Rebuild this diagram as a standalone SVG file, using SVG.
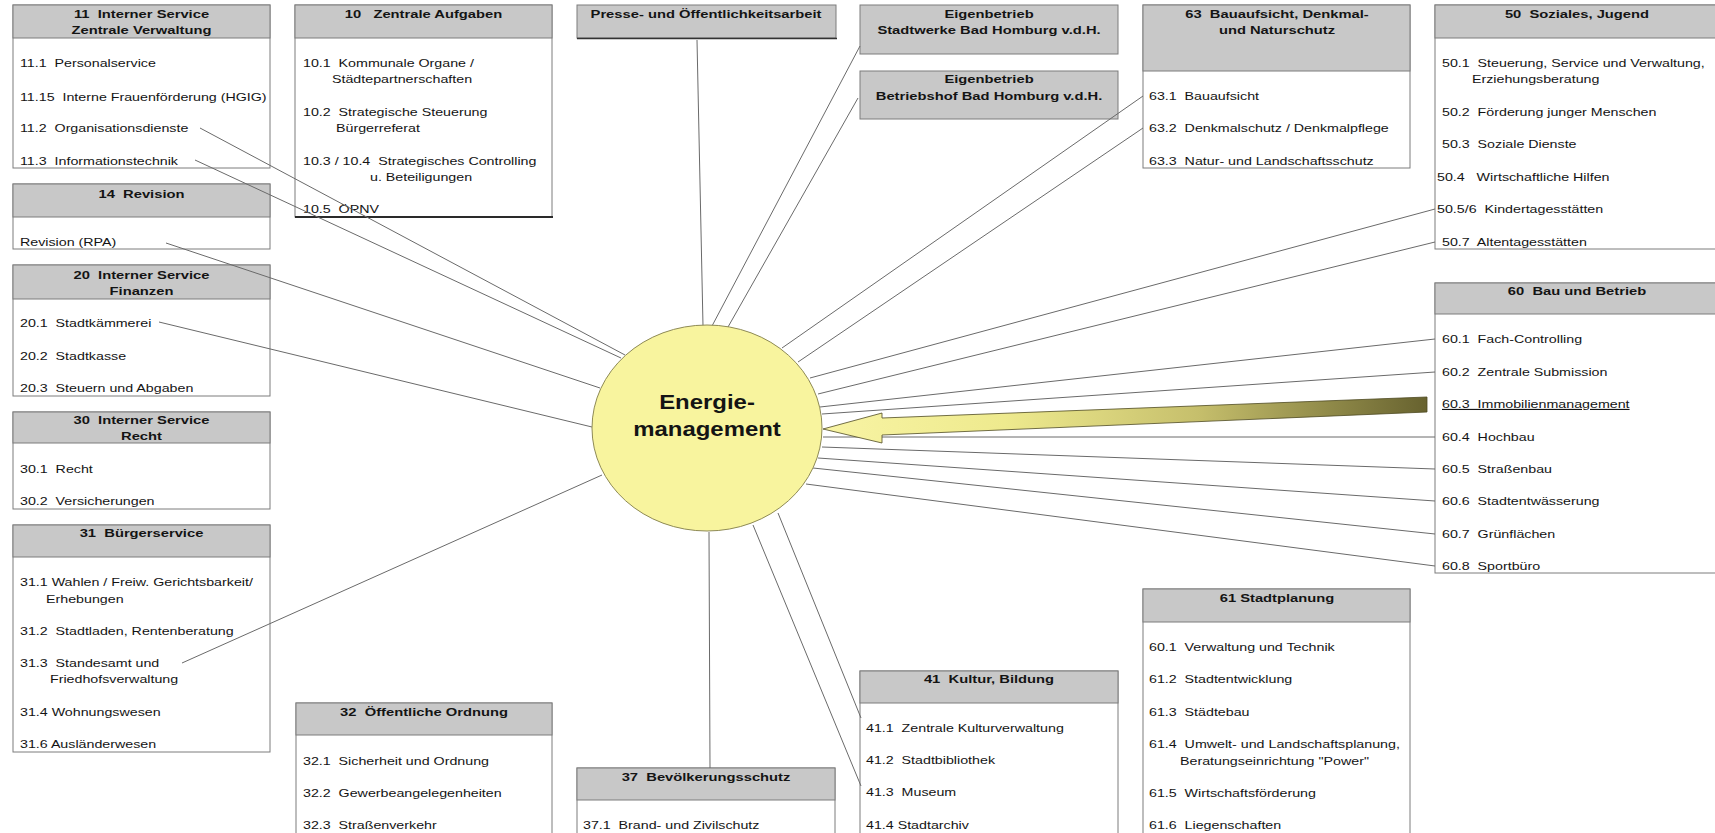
<svg xmlns="http://www.w3.org/2000/svg" width="1715" height="833" viewBox="0 0 1715 833">
<style>
.body{fill:#ffffff;stroke:#7c7c7c;stroke-width:1}
.hdr{fill:#c8c8c8;stroke:#7c7c7c;stroke-width:1}
.dark{stroke:#2a2a2a;stroke-width:2}
.t{font-family:"Liberation Sans",Arial,sans-serif;font-size:11.4px;fill:#141414;white-space:pre}
.b{font-weight:bold;text-anchor:middle;font-size:11.8px}
#connectors line{stroke:#6a6a6a;stroke-width:1}
</style>
<defs>
<linearGradient id="arrowGrad" gradientUnits="userSpaceOnUse" x1="823" y1="0" x2="1427" y2="0">
<stop offset="0" stop-color="#f8f4a4"/>
<stop offset="0.3" stop-color="#eeea8e"/>
<stop offset="0.62" stop-color="#c6bf6c"/>
<stop offset="1" stop-color="#67622f"/>
</linearGradient>
</defs>
<rect x="0" y="0" width="1715" height="833" fill="#ffffff"/>

<g id="n11">
<rect class="body" x="13" y="5" width="257" height="163"/>
<rect class="hdr" x="13" y="5" width="257" height="33"/>
<g transform="translate(141.5 0) scale(1.25 1)"><text class="t b" x="0" y="18">11  Interner Service</text><text class="t b" x="0" y="34">Zentrale Verwaltung</text></g>
<g transform="translate(20 0) scale(1.25 1)">
<text class="t" x="0" y="67">11.1  Personalservice</text>
<text class="t" x="0" y="101">11.15  Interne Frauenförderung (HGIG)</text>
<text class="t" x="0" y="132">11.2  Organisationsdienste</text>
<text class="t" x="0" y="165">11.3  Informationstechnik</text>
</g>
</g>

<g id="n14">
<rect class="body" x="13" y="184" width="257" height="65"/>
<rect class="hdr" x="13" y="184" width="257" height="33"/>
<g transform="translate(141.5 0) scale(1.25 1)"><text class="t b" x="0" y="198">14  Revision</text></g>
<g transform="translate(20 0) scale(1.25 1)"><text class="t" x="0" y="246">Revision (RPA)</text></g>
</g>

<g id="n20">
<rect class="body" x="13" y="265" width="257" height="131"/>
<rect class="hdr" x="13" y="265" width="257" height="34"/>
<g transform="translate(141.5 0) scale(1.25 1)"><text class="t b" x="0" y="279">20  Interner Service</text><text class="t b" x="0" y="295">Finanzen</text></g>
<g transform="translate(20 0) scale(1.25 1)">
<text class="t" x="0" y="327">20.1  Stadtkämmerei</text>
<text class="t" x="0" y="360">20.2  Stadtkasse</text>
<text class="t" x="0" y="392">20.3  Steuern und Abgaben</text>
</g>
</g>

<g id="n30">
<rect class="body" x="13" y="412" width="257" height="97"/>
<rect class="hdr" x="13" y="412" width="257" height="31"/>
<g transform="translate(141.5 0) scale(1.25 1)"><text class="t b" x="0" y="424">30  Interner Service</text><text class="t b" x="0" y="440">Recht</text></g>
<g transform="translate(20 0) scale(1.25 1)">
<text class="t" x="0" y="473">30.1  Recht</text>
<text class="t" x="0" y="505">30.2  Versicherungen</text>
</g>
</g>

<g id="n31">
<rect class="body" x="13" y="525" width="257" height="227"/>
<rect class="hdr" x="13" y="525" width="257" height="32"/>
<g transform="translate(141.5 0) scale(1.25 1)"><text class="t b" x="0" y="537">31  Bürgerservice</text></g>
<g transform="translate(20 0) scale(1.25 1)">
<text class="t" x="0" y="586">31.1 Wahlen / Freiw. Gerichtsbarkeit/</text>
<text class="t" x="20.8" y="603">Erhebungen</text>
<text class="t" x="0" y="635">31.2  Stadtladen, Rentenberatung</text>
<text class="t" x="0" y="667">31.3  Standesamt und</text>
<text class="t" x="24" y="683">Friedhofsverwaltung</text>
<text class="t" x="0" y="716">31.4 Wohnungswesen</text>
<text class="t" x="0" y="748">31.6 Ausländerwesen</text>
</g>
</g>

<g id="n10">
<rect class="body" x="295" y="5" width="257" height="212"/>
<rect class="hdr" x="295" y="5" width="257" height="33"/>
<line class="dark" x1="295" y1="217" x2="553" y2="217"/>
<g transform="translate(423.5 0) scale(1.25 1)"><text class="t b" x="0" y="18">10   Zentrale Aufgaben</text></g>
<g transform="translate(303 0) scale(1.25 1)">
<text class="t" x="0" y="67">10.1  Kommunale Organe /</text>
<text class="t" x="23.2" y="83">Städtepartnerschaften</text>
<text class="t" x="0" y="116">10.2  Strategische Steuerung</text>
<text class="t" x="26.4" y="132">Bürgerreferat</text>
<text class="t" x="0" y="165">10.3 / 10.4  Strategisches Controlling</text>
<text class="t" x="53.6" y="181">u. Beteiligungen</text>
<text class="t" x="0" y="213">10.5  ÖPNV</text>
</g>
</g>

<g id="n32">
<rect class="body" x="296" y="703" width="256" height="140"/>
<rect class="hdr" x="296" y="703" width="256" height="32"/>
<g transform="translate(424 0) scale(1.25 1)"><text class="t b" x="0" y="716">32  Öffentliche Ordnung</text></g>
<g transform="translate(303 0) scale(1.25 1)">
<text class="t" x="0" y="765">32.1  Sicherheit und Ordnung</text>
<text class="t" x="0" y="797">32.2  Gewerbeangelegenheiten</text>
<text class="t" x="0" y="829">32.3  Straßenverkehr</text>
</g>
</g>

<g id="npresse">
<rect class="hdr" x="577" y="5" width="259" height="33"/>
<line x1="577" y1="38.5" x2="837" y2="38.5" stroke="#333333" stroke-width="1.5"/>
<g transform="translate(706 0) scale(1.25 1)"><text class="t b" x="0" y="18">Presse- und Öffentlichkeitsarbeit</text></g>
</g>

<g id="n37">
<rect class="body" x="577" y="768" width="258" height="75"/>
<rect class="hdr" x="577" y="768" width="258" height="32"/>
<g transform="translate(706 0) scale(1.25 1)"><text class="t b" x="0" y="781">37  Bevölkerungsschutz</text></g>
<g transform="translate(583 0) scale(1.25 1)"><text class="t" x="0" y="829">37.1  Brand- und Zivilschutz</text></g>
</g>

<g id="nstadtwerke">
<rect class="hdr" x="860" y="5" width="258" height="49"/>
<g transform="translate(989 0) scale(1.25 1)"><text class="t b" x="0" y="18">Eigenbetrieb</text><text class="t b" x="0" y="34">Stadtwerke Bad Homburg v.d.H.</text></g>
</g>

<g id="nbetriebshof">
<rect class="hdr" x="860" y="71" width="258" height="48"/>
<g transform="translate(989 0) scale(1.25 1)"><text class="t b" x="0" y="83">Eigenbetrieb</text><text class="t b" x="0" y="100">Betriebshof Bad Homburg v.d.H.</text></g>
</g>

<g id="n41">
<rect class="body" x="860" y="671" width="258" height="172"/>
<rect class="hdr" x="860" y="671" width="258" height="32"/>
<g transform="translate(989 0) scale(1.25 1)"><text class="t b" x="0" y="683">41  Kultur, Bildung</text></g>
<g transform="translate(866 0) scale(1.25 1)">
<text class="t" x="0" y="732">41.1  Zentrale Kulturverwaltung</text>
<text class="t" x="0" y="764">41.2  Stadtbibliothek</text>
<text class="t" x="0" y="796">41.3  Museum</text>
<text class="t" x="0" y="829">41.4 Stadtarchiv</text>
</g>
</g>

<g id="n63">
<rect class="body" x="1143" y="5" width="267" height="163"/>
<rect class="hdr" x="1143" y="5" width="267" height="66"/>
<g transform="translate(1277 0) scale(1.25 1)"><text class="t b" x="0" y="18">63  Bauaufsicht, Denkmal-</text><text class="t b" x="0" y="34">und Naturschutz</text></g>
<g transform="translate(1149 0) scale(1.25 1)">
<text class="t" x="0" y="100">63.1  Bauaufsicht</text>
<text class="t" x="0" y="132">63.2  Denkmalschutz / Denkmalpflege</text>
<text class="t" x="0" y="165">63.3  Natur- und Landschaftsschutz</text>
</g>
</g>

<g id="n61">
<rect class="body" x="1143" y="589" width="267" height="254"/>
<rect class="hdr" x="1143" y="589" width="267" height="33"/>
<g transform="translate(1277 0) scale(1.25 1)"><text class="t b" x="0" y="602">61 Stadtplanung</text></g>
<g transform="translate(1149 0) scale(1.25 1)">
<text class="t" x="0" y="651">60.1  Verwaltung und Technik</text>
<text class="t" x="0" y="683">61.2  Stadtentwicklung</text>
<text class="t" x="0" y="716">61.3  Städtebau</text>
<text class="t" x="0" y="748">61.4  Umwelt- und Landschaftsplanung,</text>
<text class="t" x="24.8" y="765">Beratungseinrichtung "Power"</text>
<text class="t" x="0" y="797">61.5  Wirtschaftsförderung</text>
<text class="t" x="0" y="829">61.6  Liegenschaften</text>
</g>
</g>

<g id="n50">
<rect class="body" x="1435" y="5" width="290" height="244"/>
<rect class="hdr" x="1435" y="5" width="290" height="33"/>
<g transform="translate(1577 0) scale(1.25 1)"><text class="t b" x="0" y="18">50  Soziales, Jugend</text></g>
<g transform="translate(1442 0) scale(1.25 1)">
<text class="t" x="0" y="67">50.1  Steuerung, Service und Verwaltung,</text>
<text class="t" x="24" y="83">Erziehungsberatung</text>
<text class="t" x="0" y="116">50.2  Förderung junger Menschen</text>
<text class="t" x="0" y="148">50.3  Soziale Dienste</text>
<text class="t" x="-4" y="181">50.4   Wirtschaftliche Hilfen</text>
<text class="t" x="-4" y="213">50.5/6  Kindertagesstätten</text>
<text class="t" x="0" y="246">50.7  Altentagesstätten</text>
</g>
</g>

<g id="n60">
<rect class="body" x="1435" y="283" width="290" height="290"/>
<rect class="hdr" x="1435" y="283" width="290" height="31"/>
<g transform="translate(1577 0) scale(1.25 1)"><text class="t b" x="0" y="295">60  Bau und Betrieb</text></g>
<g transform="translate(1442 0) scale(1.25 1)">
<text class="t" x="0" y="343">60.1  Fach-Controlling</text>
<text class="t" x="0" y="376">60.2  Zentrale Submission</text>
<text class="t" x="0" y="408" text-decoration="underline">60.3  Immobilienmanagement</text>
<text class="t" x="0" y="441">60.4  Hochbau</text>
<text class="t" x="0" y="473">60.5  Straßenbau</text>
<text class="t" x="0" y="505">60.6  Stadtentwässerung</text>
<text class="t" x="0" y="538">60.7  Grünflächen</text>
<text class="t" x="0" y="570">60.8  Sportbüro</text>
</g>
</g>

<g id="connectors">
<line x1="200" y1="128" x2="625" y2="355"/>
<line x1="195" y1="160" x2="621" y2="358"/>
<line x1="166" y1="243" x2="600" y2="388"/>
<line x1="159" y1="322" x2="592" y2="427"/>
<line x1="182" y1="663" x2="602" y2="475"/>
<line x1="697" y1="40" x2="703" y2="326"/>
<line x1="860" y1="46" x2="712" y2="326"/>
<line x1="858" y1="98" x2="728" y2="327"/>
<line x1="1143" y1="96" x2="782" y2="348"/>
<line x1="1143" y1="128" x2="798" y2="362"/>
<line x1="1435" y1="209" x2="810" y2="378"/>
<line x1="1435" y1="242" x2="818" y2="394"/>
<line x1="1435" y1="339" x2="820" y2="407"/>
<line x1="1435" y1="372" x2="822" y2="414"/>
<line x1="1435" y1="437" x2="823" y2="437"/>
<line x1="1435" y1="469" x2="822" y2="447"/>
<line x1="1435" y1="501" x2="818" y2="458"/>
<line x1="1435" y1="534" x2="813" y2="468"/>
<line x1="1435" y1="566" x2="806" y2="484"/>
<line x1="861" y1="718" x2="778" y2="513"/>
<line x1="861" y1="786" x2="753" y2="525"/>
<line x1="709" y1="532" x2="710" y2="768"/>
</g>

<g id="nenergie">
<ellipse cx="707" cy="428" rx="115" ry="103" fill="#f8f49e" stroke="#8e8a55" stroke-width="1"/>
<g transform="translate(707 0) scale(1.14 1)">
<text class="t b" x="0" y="409" style="font-size:21px">Energie-</text>
<text class="t b" x="0" y="436" style="font-size:21px">management</text>
</g>
</g>

<g id="arrow">
<polygon points="823,429 882,413 882,418 1427,397 1427,412 882,435 882,443" fill="url(#arrowGrad)" stroke="#4e4a22" stroke-width="0.8" stroke-linejoin="miter"/>
</g>
</svg>
